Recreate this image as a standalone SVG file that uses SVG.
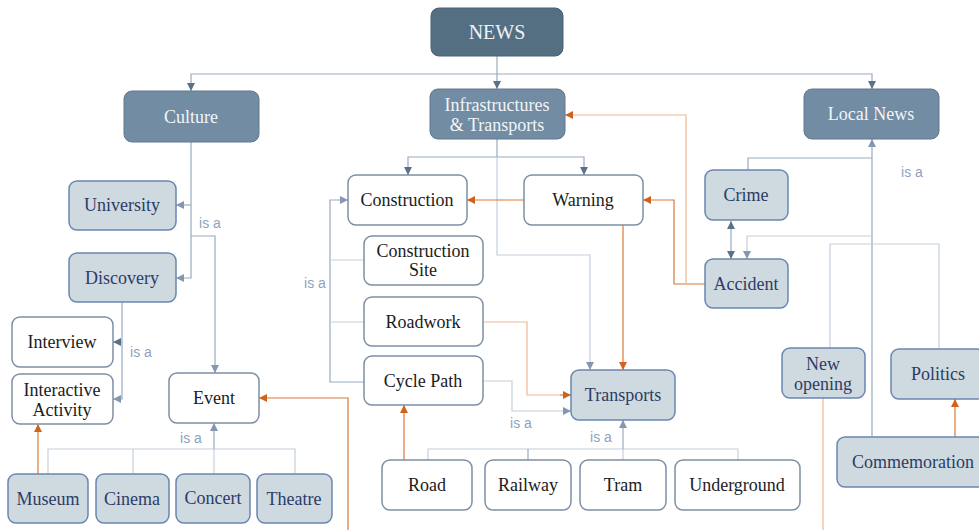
<svg xmlns="http://www.w3.org/2000/svg" width="979" height="530" viewBox="0 0 979 530">
  <defs>
    <style>
      .n text { font-family: "Liberation Serif", "Times New Roman", serif; font-size: 18px; text-anchor: middle; dominant-baseline: central; }
      .dk rect { fill: #546e82; stroke: #4a6275; stroke-width: 1; }
      .dk text { fill: #eef2f5; font-size: 20px; }
      .md rect { fill: #718ca3; stroke: #62798f; stroke-width: 1; }
      .md text { fill: #f2f5f8; }
      .lt rect { fill: #cfd9e0; stroke: #6a86b1; stroke-width: 1.5; }
      .lt text { fill: #2b3d66; }
      .wt rect { fill: #ffffff; stroke: #7d8fa4; stroke-width: 1.5; }
      .wt text { fill: #1c1c1c; }
      .c path { fill: none; stroke-width: 1.2; }
      .c .b { stroke: #9aabc0; }
      .c .l { stroke: #c6d0dc; }
      .c .o { stroke: #d9783a; }
      .c .ol { stroke: #f0b690; }
      .isa { font-family: "Liberation Sans", Arial, sans-serif; font-size: 14px; fill: #8fa1bd; text-anchor: middle; dominant-baseline: central; }
    </style>
    <marker id="ad" viewBox="0 0 10 10" refX="10" refY="5" markerWidth="8" markerHeight="8" markerUnits="userSpaceOnUse" orient="auto-start-reverse">
      <path d="M0,0 L10,5 L0,10 z" fill="#5a7289"/>
    </marker>
    <marker id="ag" viewBox="0 0 10 10" refX="10" refY="5" markerWidth="8" markerHeight="8" markerUnits="userSpaceOnUse" orient="auto">
      <path d="M0,0 L10,5 L0,10 z" fill="#8597b0"/>
    </marker>
    <marker id="ao" viewBox="0 0 10 10" refX="10" refY="5" markerWidth="8" markerHeight="8" markerUnits="userSpaceOnUse" orient="auto">
      <path d="M0,0 L10,5 L0,10 z" fill="#d0621c"/>
    </marker>
  </defs>

  <!-- connectors -->
  <g id="connectors" class="c">
    <!-- NEWS to its three sections -->
    <path class="b" d="M497,56 V74"/>
    <path class="b" d="M497,74 H191 V91" marker-end="url(#ad)"/>
    <path class="b" d="M497,74 V89" marker-end="url(#ad)"/>
    <path class="b" d="M497,74 H872 V89" marker-end="url(#ad)"/>

    <!-- Culture -->
    <path class="b" d="M191,142 V278 H176" marker-end="url(#ag)"/>
    <path class="b" d="M191,205 H176" marker-end="url(#ag)"/>
    <path class="b" d="M191,236 H215 V373" marker-end="url(#ag)"/>

    <!-- Discovery -->
    <path class="b" d="M122,302 V399 H113" marker-end="url(#ag)"/>
    <path class="b" d="M122,342 H113" marker-end="url(#ad)"/>

    <!-- Event bus -->
    <path class="l" d="M48,474 V449 H295 V474"/>
    <path class="l" d="M133,449 V474"/>
    <path class="l" d="M214,474 V449"/>
    <path class="b" d="M214,449 V423" marker-end="url(#ag)"/>
    <path class="o" d="M38,474 V424" marker-end="url(#ao)"/>
    <path class="o" d="M348,530 V398 H259" marker-end="url(#ao)"/>

    <!-- Infrastructures & Transports -->
    <path class="b" d="M497,139 V157 H408 V175" marker-end="url(#ad)"/>
    <path class="b" d="M497,157 H584 V175" marker-end="url(#ad)"/>
    <path class="l" d="M497,157 V255 H590 V370" marker-end="url(#ag)"/>
    <path class="o" d="M524,200 H467" marker-end="url(#ao)"/>

    <!-- Construction is-a bracket -->
    <path class="b" d="M364,382 H330 V200 H348" marker-end="url(#ag)"/>
    <path class="l" d="M364,260 H330"/>
    <path class="l" d="M364,322 H330"/>

    <!-- towards Transports -->
    <path class="ol" d="M483,322 H527 V395 H560"/>
    <path class="o" d="M560,395 H571" marker-end="url(#ao)"/>
    <path class="l" d="M483,381 H512 V411 H571" marker-end="url(#ag)"/>
    <path class="o" d="M623,225 V370" marker-end="url(#ao)"/>

    <!-- Transports bus -->
    <path class="l" d="M428,460 V449 H738 V460"/>
    <path class="b" d="M528,449 V460"/>
    <path class="l" d="M623,460 V449"/>
    <path class="b" d="M623,449 V420" marker-end="url(#ag)"/>
    <path class="o" d="M404,460 V405" marker-end="url(#ao)"/>

    <!-- Accident links -->
    <path class="o" d="M705,284 H674 V200 H643" marker-end="url(#ao)"/>
    <path class="ol" d="M686,284 V115 H565" marker-end="url(#ao)"/>
    <path class="b" d="M731,221 V259" marker-start="url(#ad)" marker-end="url(#ad)"/>

    <!-- Local News -->
    <path class="b" d="M872,437 V139" marker-end="url(#ag)"/>
    <path class="b" d="M872,158 H748 V170"/>
    <path class="l" d="M872,236 H747 V259" marker-end="url(#ag)"/>
    <path class="l" d="M830,348 V244 H939 V349"/>
    <path class="ol" d="M823,398 V530"/>
    <path class="o" d="M955,437 V399" marker-end="url(#ao)"/>

    <text class="isa" x="210" y="223">is a</text>
    <text class="isa" x="141" y="352">is a</text>
    <text class="isa" x="191" y="438">is a</text>
    <text class="isa" x="315" y="283">is a</text>
    <text class="isa" x="521" y="423">is a</text>
    <text class="isa" x="601" y="437">is a</text>
    <text class="isa" x="912" y="172">is a</text>
  </g>

  <!-- nodes -->
  <g id="news" class="n dk"><rect x="431" y="8" width="132" height="48" rx="8"/><text x="497" y="32">NEWS</text></g>
  <g id="culture" class="n md"><rect x="124" y="91" width="135" height="51" rx="8"/><text x="191" y="117">Culture</text></g>
  <g id="infrastructures" class="n md"><rect x="430" y="89" width="135" height="50" rx="8"/><text x="497" y="105">Infrastructures</text><text x="497" y="125">&amp; Transports</text></g>
  <g id="local-news" class="n md"><rect x="804" y="89" width="135" height="50" rx="8"/><text x="871" y="114">Local News</text></g>

  <g id="university" class="n lt"><rect x="69" y="181" width="107" height="49" rx="8"/><text x="122" y="205">University</text></g>
  <g id="discovery" class="n lt"><rect x="69" y="253" width="107" height="49" rx="8"/><text x="122" y="278">Discovery</text></g>
  <g id="interview" class="n wt"><rect x="12" y="317" width="101" height="50" rx="8"/><text x="62" y="342">Interview</text></g>
  <g id="interactive-activity" class="n wt"><rect x="12" y="374" width="101" height="50" rx="8"/><text x="62" y="390">Interactive</text><text x="62" y="410">Activity</text></g>
  <g id="event" class="n wt"><rect x="169" y="373" width="90" height="50" rx="8"/><text x="214" y="398">Event</text></g>
  <g id="museum" class="n lt"><rect x="8" y="474" width="80" height="49" rx="8"/><text x="48" y="499">Museum</text></g>
  <g id="cinema" class="n lt"><rect x="96" y="474" width="73" height="49" rx="8"/><text x="132" y="499">Cinema</text></g>
  <g id="concert" class="n lt"><rect x="176" y="474" width="74" height="49" rx="8"/><text x="213" y="498">Concert</text></g>
  <g id="theatre" class="n lt"><rect x="257" y="474" width="75" height="49" rx="8"/><text x="294" y="499">Theatre</text></g>

  <g id="construction" class="n wt"><rect x="348" y="175" width="119" height="50" rx="8"/><text x="407" y="200">Construction</text></g>
  <g id="warning" class="n wt"><rect x="524" y="175" width="119" height="50" rx="8"/><text x="583" y="200">Warning</text></g>
  <g id="construction-site" class="n wt"><rect x="364" y="236" width="119" height="49" rx="8"/><text x="423" y="251">Construction</text><text x="423" y="270">Site</text></g>
  <g id="roadwork" class="n wt"><rect x="364" y="297" width="119" height="49" rx="8"/><text x="423" y="322">Roadwork</text></g>
  <g id="cycle-path" class="n wt"><rect x="364" y="356" width="119" height="49" rx="8"/><text x="423" y="381">Cycle Path</text></g>
  <g id="transports" class="n lt"><rect x="571" y="370" width="104" height="50" rx="8"/><text x="623" y="395">Transports</text></g>
  <g id="road" class="n wt"><rect x="382" y="460" width="90" height="50" rx="8"/><text x="427" y="485">Road</text></g>
  <g id="railway" class="n wt"><rect x="485" y="460" width="86" height="50" rx="8"/><text x="528" y="485">Railway</text></g>
  <g id="tram" class="n wt"><rect x="580" y="460" width="86" height="50" rx="8"/><text x="623" y="485">Tram</text></g>
  <g id="underground" class="n wt"><rect x="675" y="460" width="125" height="50" rx="8"/><text x="737" y="485">Underground</text></g>

  <g id="crime" class="n lt"><rect x="705" y="170" width="83" height="50" rx="8"/><text x="746" y="195">Crime</text></g>
  <g id="accident" class="n lt"><rect x="705" y="259" width="83" height="49" rx="8"/><text x="746" y="284">Accident</text></g>
  <g id="new-opening" class="n lt"><rect x="782" y="348" width="83" height="50" rx="8"/><text x="823" y="364">New</text><text x="823" y="384">opening</text></g>
  <g id="politics" class="n lt"><rect x="891" y="349" width="94" height="50" rx="8"/><text x="938" y="374">Politics</text></g>
  <g id="commemoration" class="n lt"><rect x="837" y="437" width="152" height="50" rx="8"/><text x="913" y="462">Commemoration</text></g>
</svg>
